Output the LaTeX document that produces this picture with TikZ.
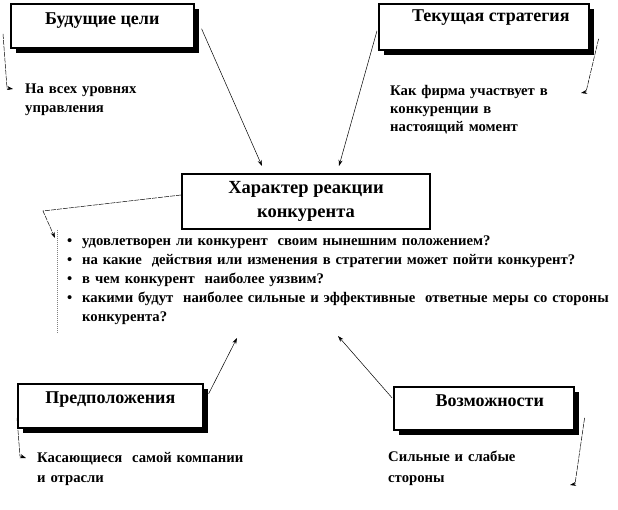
\documentclass[tikz,border=0pt]{standalone}
\usepackage{fontspec}
\setmainfont{Liberation Serif}
\usetikzlibrary{arrows.meta,calc,shadows}
\newcommand{\qbul}{\makebox[15pt][l]{\textbullet}}
\tikzset{
  topic/.style ={draw, line width=1.6pt, fill=white, inner sep=0pt,
                 anchor=north west,
                 font=\fontsize{18}{21}\selectfont\bfseries,
                 drop shadow={shadow xshift=5pt, shadow yshift=-5pt,
                              fill=black, opacity=1}},
  hub/.style   ={draw, line width=2pt, fill=white, inner sep=0pt,
                 align=center, font=\fontsize{18.5}{24}\selectfont\bfseries},
  note/.style  ={inner sep=0pt, align=left, text width=#1,
                 anchor=base west,
                 font=\fontsize{14.7}{19}\selectfont\bfseries},
  link/.style  ={-{Stealth[length=6pt,width=4pt]}, line width=0.5pt},
  side/.style  ={-{Stealth[length=6pt,width=4pt]}, line width=0.5pt,
                 dash pattern=on 5pt off 1pt},
}
\begin{document}
\begin{tikzpicture}[x=1pt, y=-1pt]
\useasboundingbox (0,0) rectangle (618,510);
\node[topic, minimum width=183pt, text height=21pt, text depth=23pt]
  (goals) at (10,3) {Будущие цели};
\node[topic, minimum width=210pt, text height=18pt, text depth=28pt]
  (strat) at (378,3) {\hspace*{14pt}Текущая стратегия};
\node[hub, minimum width=248pt, minimum height=55pt] (react) at (306,201.5)
  {Характер реакции\\конкурента};
\node[topic, minimum width=185pt, text height=20pt, text depth=24pt]
  (assum) at (17,383) {Предположения};
\node[topic, minimum width=180pt, text height=20pt, text depth=23pt]
  (capab) at (393,386) {\hspace*{12pt}Возможности};
\node[note=200pt] (lvls) at (25,94) {На всех уровнях\\управления};
\node[note=210pt, font=\fontsize{14.7}{18}\selectfont\bfseries] (how) at (390,96)
  {Как фирма участвует в\\конкуренции в\\настоящий момент};
\node[note=545pt] (quest) at (67,246)
  {\qbul удовлетворен ли конкурент\ \ своим нынешним положением?\\
   \qbul на какие\ \ действия или изменения в стратегии может пойти конкурент?\\
   \qbul в чем конкурент\ \ наиболее уязвим?\\
   \qbul какими будут\ \ наиболее сильные и эффективные\ \ ответные меры со стороны\\
   \hspace*{15pt}конкурента?};
\node[note=240pt, font=\fontsize{14.7}{20}\selectfont\bfseries] (self) at (37,462)
  {Касающиеся\ \ самой компании\\и отрасли};
\node[note=200pt, font=\fontsize{14.7}{21}\selectfont\bfseries] (sw) at (388,461)
  {Сильные и слабые\\стороны};
\coordinate (rtop) at (57,230);
\coordinate (rbot) at (57,333);
\draw[link] ($(goals.east)+(7,3)$) -- ($(react.north)+(-44,-7)$);
\draw[link] ($(strat.west)+(-1,4)$) -- ($(react.north)+(33,-7)$);
\draw[link] ($(assum.east)+(5,-12)$) -- ($(react.south)+(-69,108)$);
\draw[link] ($(capab.west)+(-1,-10.5)$) -- ($(react.south)+(32,106)$);
\draw[side] ($(goals.west)+(-7,8)$) -- ($(lvls.base west)+(-18,-6)$)
  -- ($(lvls.base west)+(-12,-5)$);
\draw[side] ($(strat.east)+(9,12)$) -- ($(how.base west)+(196,-4)$)
  -- ($(how.base west)+(191,-3)$);
\draw[side] ($(react.west)+(0,-6.5)$) -- ($(quest.base west)+(-24,-35)$)
  -- ($(quest.base west)+(-12,-8)$);
\draw[side] ($(assum.west)+(0,12)$) -- ($(self.base west)+(-17,-6)$)
  -- ($(self.base west)+(-11,-4)$);
\draw[side] ($(capab.east)+(10,9.5)$) -- ($(sw.base west)+(187,23)$)
  -- ($(sw.base west)+(182,24)$);
\draw[gray, densely dotted, line width=1pt] (rtop) -- (rbot);
\end{tikzpicture}
\end{document}
